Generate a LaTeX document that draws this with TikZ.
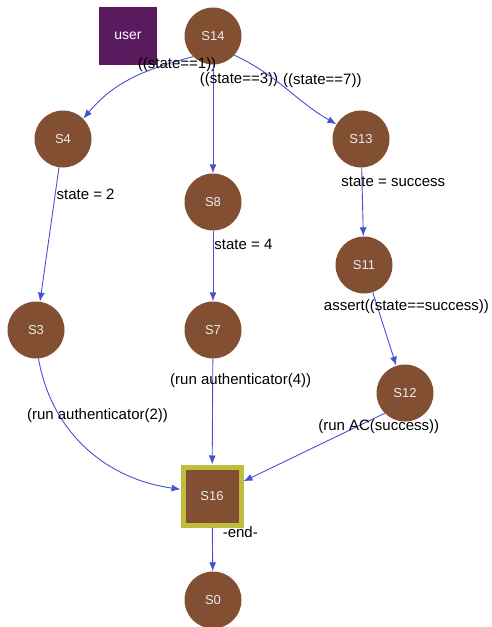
\documentclass[tikz,border=0pt]{standalone}
\usepackage{fontspec}
\setmainfont{Liberation Sans}
\usetikzlibrary{arrows.meta}

\definecolor{statebrown}{HTML}{824F33}
\definecolor{userpurple}{HTML}{5A1A5E}
\definecolor{endyellow}{HTML}{BEBE3C}
\definecolor{edgeblue}{HTML}{4650D2}

\begin{document}
\begin{tikzpicture} [
    x=1pt, y=1pt,
    state/.style    = { circle, fill=statebrown, draw=none, minimum size=57pt,
                        inner sep=0pt, text=white!92!black,
                        font=\fontsize{13}{15}\selectfont },
    final/.style    = { rectangle, fill=statebrown, draw=endyellow, line width=5pt,
                        minimum size=58pt, inner sep=0pt, text=white!92!black,
                        font=\fontsize{13}{15}\selectfont },
    actor/.style    = { rectangle, fill=userpurple, draw=none, minimum size=58pt,
                        inner sep=0pt, text=white, font=\fontsize{14}{16}\selectfont },
    lbl/.style      = { font=\fontsize{15}{17}\selectfont, inner sep=1pt, text=black },
    line/.style     = { draw=edgeblue, line width=0.9pt,
                        -{Latex[length=9pt,width=7pt]} },
  ]
  \useasboundingbox (0,0) rectangle (491,-627);

  % Define nodes
  \node[actor] (user) at (128,-36)  {user};
  \node[state] (S14)  at (213,-36)  {S14};
  \node[state] (S4)   at (63,-139)  {S4};
  \node[state] (S8)   at (213,-202) {S8};
  \node[state] (S13)  at (361,-139) {S13};
  \node[state] (S3)   at (36,-330)  {S3};
  \node[state] (S7)   at (213,-330) {S7};
  \node[state] (S11)  at (364,-265) {S11};
  \node[state] (S12)  at (405,-393) {S12};
  \node[final] (S16)  at (212,-496) {S16};
  \node[state] (S0)   at (213,-600) {S0};

  % connect the nodes
		\path [line] (S14.226) to[out=195, in=50]
		  node[lbl, at start, xshift=-16pt, yshift=-8pt] {((state==1))} (S4.45);
		\path [line] (S14) --
		  node[lbl, at start, xshift=26pt, yshift=-15pt] {((state==3))} (S8);
		\path [line] (S14.318) to[out=-25, in=150]
		  node[lbl, at start, xshift=88pt, yshift=-25pt] {((state==7))} (S13.149);
		\path [line] (S4) --
		  node[lbl, pos=0.2, anchor=west] {state = 2} (S3);
		\path [line] (S8) --
		  node[lbl, pos=0.2, anchor=west] {state = 4} (S7);
		\path [line] (S13) --
		  node[lbl, pos=0.2, anchor=west, xshift=-22pt] {state = success} (S11);
		\path [line] (S11) --
		  node[lbl, pos=0.2, xshift=29pt] {assert((state==success))} (S12);
		\path [line] (S3.-85) to[out=-80, in=172]
		  node[lbl, at start, xshift=59pt, yshift=-57pt] {(run authenticator(2))} (S16.168);
		\path [line] (S7) --
		  node[lbl, pos=0.21, xshift=28pt] {(run authenticator(4))} (S16);
		\path [line] (S12.225) --
		  node[lbl, at start, xshift=-6pt, yshift=-13pt] {(run AC(success))} (S16.25);
		\path [line] (S16) --
		  node[lbl, pos=0.11, anchor=west, xshift=9pt] {-end-} (S0);
\end{tikzpicture}
\end{document}
